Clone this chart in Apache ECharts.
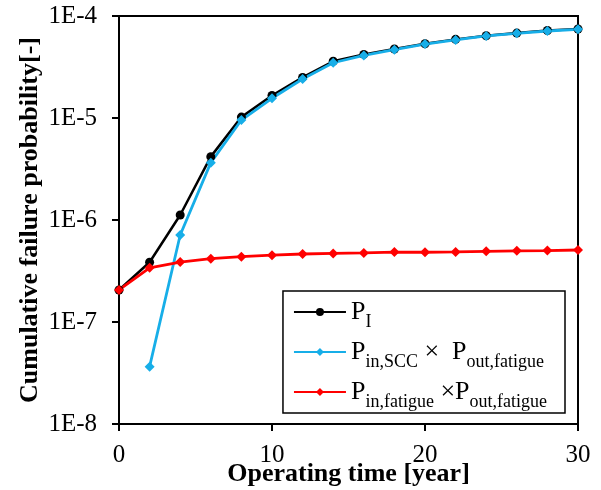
<!DOCTYPE html>
<html><head><meta charset="utf-8">
<script src="https://cdn.jsdelivr.net/npm/echarts@6/dist/echarts.min.js"></script>
<style>html,body{margin:0;padding:0;background:#fff}#c{width:601px;height:490px}</style>
</head><body><div id="c"></div>
<script>
const years = [0,2,4,6,8,10,12,14,16,18,20,22,24,26,28,30];
const pI = [2.06e-7,3.85e-7,1.12e-6,4.18e-6,1.02e-5,1.66e-5,2.5e-5,3.6e-5,4.2e-5,4.75e-5,5.35e-5,5.9e-5,6.4e-5,6.8e-5,7.2e-5,7.45e-5];
const pScc = [null,3.65e-8,7.13e-7,3.65e-6,9.55e-6,1.56e-5,2.41e-5,3.48e-5,4.11e-5,4.68e-5,5.31e-5,5.82e-5,6.37e-5,6.77e-5,7.13e-5,7.4e-5];
const pFat = [2.06e-7,3.4e-7,3.87e-7,4.18e-7,4.37e-7,4.52e-7,4.64e-7,4.7e-7,4.76e-7,4.85e-7,4.83e-7,4.86e-7,4.93e-7,4.99e-7,5.02e-7,5.08e-7];
const names = ['PI','PSCC','PFAT'];
const legendLabels = {
  PI: '{p|P}{s|I}',
  PSCC: '{p|P}{s|in,SCC}{p| ×  P}{s|out,fatigue}',
  PFAT: '{p|P}{s|in,fatigue}{p| ×P}{s|out,fatigue}'
};
const pairs = arr => years.map((x,i)=>[x,arr[i]]).filter(d=>d[1]!==null);
const F = '"Liberation Serif","Times New Roman",serif';
const chart = echarts.init(document.getElementById('c'));
chart.setOption({
  animation:false,
  grid:{left:119,right:23,top:16,bottom:66,show:true,borderColor:'#000',borderWidth:2,backgroundColor:'transparent',
    outerBoundsMode:'none',containLabel:false},
  xAxis:{type:'value',min:0,max:30,interval:10,
    name:'Operating time [year]',nameLocation:'middle',nameGap:37,nameMoveOverlap:false,
    nameTextStyle:{fontFamily:F,fontSize:26,fontWeight:'bold',color:'#000'},
    axisLine:{lineStyle:{color:'#000',width:2}},
    axisTick:{show:true,length:7,lineStyle:{color:'#000',width:2}},
    axisLabel:{fontFamily:F,fontSize:25,color:'#000',margin:19},
    splitLine:{show:false}},
  yAxis:{type:'log',logBase:10,min:1e-8,max:1e-4,splitNumber:4,
    name:'Cumulative failure probability[-]',nameLocation:'middle',nameGap:76,nameMoveOverlap:false,
    nameTextStyle:{fontFamily:F,fontSize:26,fontWeight:'bold',color:'#000'},
    axisLine:{show:true,lineStyle:{color:'#000',width:2}},
    axisTick:{show:true,length:7,lineStyle:{color:'#000',width:2}},
    minorTick:{show:false},
    axisLabel:{fontFamily:F,fontSize:25,color:'#000',margin:22,
      formatter:v=>'1E'+Math.round(Math.log10(v))},
    splitLine:{show:false}},
  legend:{orient:'vertical',right:36,bottom:77,
    backgroundColor:'#fff',borderColor:'#000',borderWidth:1.5,
    padding:[2,18,2,10],itemGap:2,itemWidth:52,itemHeight:10,
    data:names,
    formatter:n=>legendLabels[n],
    textStyle:{fontFamily:F,color:'#000',
      rich:{p:{fontFamily:F,fontSize:26,color:'#000',lineHeight:26,verticalAlign:'middle'},
            s:{fontFamily:F,fontSize:18,color:'#000',lineHeight:18,verticalAlign:'middle',padding:[20,0,0,0]}}}},
  series:[
    {name:'PI',type:'line',data:pairs(pI),color:'#000',symbol:'circle',symbolSize:9,
      lineStyle:{width:2.5,color:'#000'},itemStyle:{color:'#000'}},
    {name:'PSCC',type:'line',data:pairs(pScc),color:'#17AEE8',symbol:'diamond',symbolSize:10,
      lineStyle:{width:2.8,color:'#17AEE8'},itemStyle:{color:'#17AEE8'}},
    {name:'PFAT',type:'line',data:pairs(pFat),color:'#FF0000',symbol:'diamond',symbolSize:10,
      lineStyle:{width:2.8,color:'#FF0000'},itemStyle:{color:'#FF0000'}}
  ]
});
</script></body></html>
